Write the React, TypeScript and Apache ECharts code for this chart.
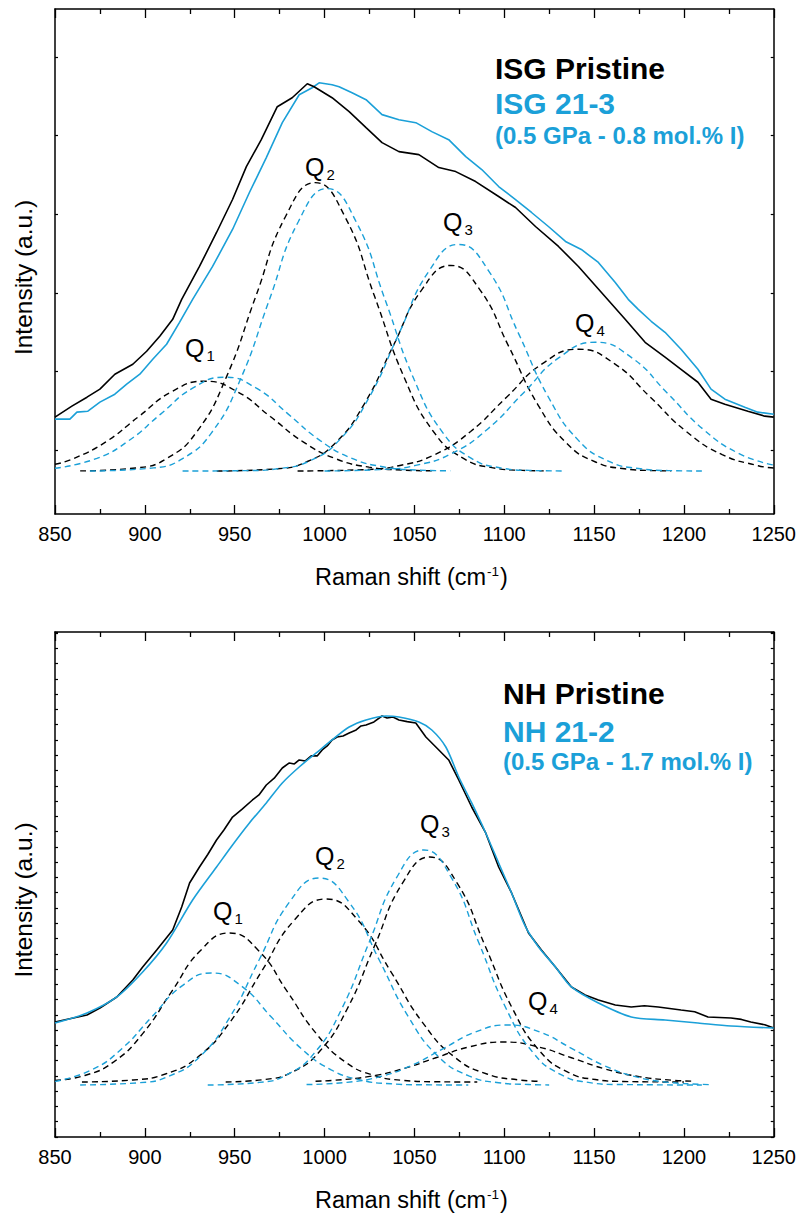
import { useEffect, useRef } from "react";
import * as echarts from "echarts";

type Pt = [number, number];

// ---------- axis values ----------
const X_MIN = 850;
const X_MAX = 1250;
const X_STEP = 50;
const TOP_Y_MIN = 0.19;
const TOP_Y_MAX = 6.61;
const TOP_Y_TICKS = [1, 2, 3, 4, 5, 6];
const BOT_Y_MIN = 0;
const BOT_Y_MAX = 6.614;
const BOT_Y_STEP = 0.2;

// ---------- top panel: ISG ----------
const isgPristine: Pt[] = [
  [850, 1.421], [859.4, 1.561], [867.8, 1.675], [875.0, 1.777], [883.3, 1.967], [893.3, 2.094],
  [901.0, 2.259], [908.3, 2.449], [915.5, 2.665], [920.5, 2.919], [930.4, 3.337], [939.9, 3.769],
  [948.8, 4.188], [956.5, 4.606], [964.8, 4.949], [973.7, 5.368], [982.0, 5.482], [990.4, 5.660],
  [994.2, 5.622], [1004.2, 5.482], [1013.7, 5.305], [1023.1, 5.101], [1032.0, 4.911], [1041.4, 4.797],
  [1052.5, 4.759], [1063.6, 4.594], [1073.0, 4.543], [1084.1, 4.416], [1096.9, 4.226], [1106.3, 4.086],
  [1117.4, 3.845], [1130.2, 3.591], [1141.3, 3.337], [1154.0, 3.008], [1167.3, 2.665], [1178.4, 2.373],
  [1189.5, 2.183], [1198.4, 2.030], [1207.8, 1.865], [1215.1, 1.650], [1222.8, 1.586], [1235.6, 1.497],
  [1245.0, 1.434], [1250, 1.421],
];
const isg213: Pt[] = [
  [850, 1.396], [858.3, 1.396], [862.2, 1.485], [868.3, 1.497], [875.0, 1.612], [883.3, 1.713],
  [889.9, 1.840], [897.2, 1.967], [904.4, 2.157], [912.1, 2.348], [919.3, 2.627], [926.6, 2.919],
  [937.7, 3.337], [948.8, 3.807], [958.2, 4.277], [967.6, 4.721], [976.5, 5.165], [985.9, 5.520],
  [993.1, 5.609], [997.0, 5.672], [1004.2, 5.647], [1008.1, 5.622], [1015.3, 5.546], [1023.1, 5.457],
  [1032.0, 5.267], [1041.4, 5.203], [1050.8, 5.165], [1059.7, 5.051], [1069.1, 4.949], [1078.6, 4.733],
  [1087.5, 4.569], [1096.9, 4.353], [1106.3, 4.188], [1115.2, 4.023], [1124.6, 3.845], [1134.1, 3.655],
  [1142.9, 3.553], [1152.4, 3.388], [1161.8, 3.134], [1169.0, 2.919], [1174.6, 2.792], [1181.8, 2.640],
  [1189.5, 2.500], [1198.4, 2.284], [1207.8, 2.030], [1215.1, 1.777], [1222.8, 1.650], [1233.9, 1.548],
  [1241.1, 1.485], [1250, 1.459],
];
const isgPristineQ1: Pt[] = [
  [850, 0.822], [860, 0.891], [878.3, 1.107], [896.6, 1.429], [914.9, 1.744], [933.2, 1.878],
  [951.5, 1.744], [969.8, 1.429], [988.1, 1.107], [1006.4, 0.891], [1024.7, 0.786], [1043, 0.749], [1060, 0.739],
];
const isg213Q1: Pt[] = [
  [850, 0.771], [873.3, 0.897], [891.1, 1.123], [908.8, 1.46], [926.6, 1.789], [944.3, 1.929],
  [962.1, 1.789], [979.8, 1.46], [997.6, 1.123], [1015.3, 0.897], [1033.1, 0.788], [1050.8, 0.749], [1070, 0.739],
];
const isgPristineQ2: Pt[] = [
  [864, 0.738], [895.8, 0.777], [912.3, 0.897], [928.8, 1.232], [945.3, 1.927], [961.8, 2.96],
  [978.3, 3.972], [994.8, 4.403], [1011.3, 3.972], [1027.8, 2.96], [1044.3, 1.927], [1060.8, 1.232],
  [1077.3, 0.897], [1093.8, 0.777], [1110.3, 0.744], [1122, 0.738],
];
const isg213Q2: Pt[] = [
  [869.4, 0.736], [904.9, 0.776], [921, 0.894], [937.1, 1.222], [953.2, 1.902], [969.3, 2.914],
  [985.4, 3.905], [1001.5, 4.327], [1017.6, 3.905], [1033.7, 2.914], [1049.8, 1.902], [1065.9, 1.222],
  [1082, 0.894], [1098.1, 0.776], [1114.2, 0.744], [1134, 0.737],
];
const isgPristineQ3: Pt[] = [
  [940, 0.736], [973.7, 0.765], [989.8, 0.851], [1005.9, 1.09], [1022, 1.585], [1038.1, 2.321],
  [1054.2, 3.043], [1070.3, 3.35], [1086.4, 3.043], [1102.5, 2.321], [1118.6, 1.585], [1134.7, 1.09],
  [1150.8, 0.851], [1166.9, 0.765], [1183, 0.742], [1193, 0.738],
];
const isg213Q3: Pt[] = [
  [921, 0.736], [958.2, 0.742], [974.8, 0.768], [991.5, 0.862], [1008.1, 1.126], [1024.8, 1.671],
  [1041.4, 2.483], [1058.1, 3.278], [1074.7, 3.617], [1091.4, 3.278], [1108, 2.483], [1124.7, 1.671],
  [1141.3, 1.126], [1158, 0.862], [1174.6, 0.768], [1191.3, 0.742], [1210, 0.737],
];
const isgPristineQ4: Pt[] = [
  [985, 0.737], [1021.3, 0.753], [1041.3, 0.804], [1061.3, 0.945], [1081.3, 1.239], [1101.3, 1.675],
  [1121.3, 2.102], [1141.3, 2.284], [1161.3, 2.102], [1181.3, 1.675], [1201.3, 1.239], [1221.3, 0.945],
  [1241.3, 0.804], [1250, 0.774],
];
const isg213Q4: Pt[] = [
  [1000, 0.737], [1030.7, 0.754], [1050.7, 0.808], [1070.7, 0.958], [1090.7, 1.268], [1110.7, 1.729],
  [1130.7, 2.181], [1150.7, 2.373], [1170.7, 2.181], [1190.7, 1.729], [1210.7, 1.268], [1230.7, 0.958],
  [1250, 0.812],
];

// ---------- bottom panel: NH ----------
const nhPristine: Pt[] = [
  [850, 1.506], [867.8, 1.598], [875.0, 1.690], [884.4, 1.834], [893.3, 2.056], [898.8, 2.227],
  [906.6, 2.449], [915.5, 2.711], [920.5, 3.013], [924.9, 3.327], [930.4, 3.536], [935.0, 3.700],
  [939.9, 3.890], [944.0, 4.020], [948.8, 4.191], [954.0, 4.290], [959.9, 4.414], [963.5, 4.480],
  [967.6, 4.610], [972.0, 4.700], [976.5, 4.833], [980.4, 4.899], [983.2, 4.886], [985.9, 4.938],
  [989.3, 4.925], [992.6, 4.991], [995.9, 4.991], [998.7, 5.069], [1001.5, 5.121], [1004.2, 5.200],
  [1007.0, 5.239], [1010.3, 5.252], [1013.7, 5.292], [1017.6, 5.331], [1020.3, 5.383], [1023.1, 5.396],
  [1027.5, 5.436], [1032.0, 5.514], [1034.8, 5.488], [1038.1, 5.501], [1041.4, 5.462], [1046.0, 5.440],
  [1050.8, 5.423], [1056.4, 5.239], [1063.6, 5.069], [1069.1, 4.938], [1074.7, 4.676], [1081.9, 4.322],
  [1089.7, 3.982], [1096.9, 3.536], [1104.1, 3.196], [1113.5, 2.672], [1120.7, 2.449], [1128.5, 2.227],
  [1137.4, 1.965], [1145.0, 1.860], [1152.4, 1.794], [1161.8, 1.729], [1170.7, 1.703], [1178.0, 1.720],
  [1185.7, 1.703], [1198.4, 1.663], [1206.0, 1.640], [1213.4, 1.572], [1226.2, 1.559], [1232.0, 1.540],
  [1237.2, 1.506], [1245.0, 1.470], [1250, 1.428],
];
const nh212: Pt[] = [
  [850, 1.493], [867.8, 1.624], [884.4, 1.834], [898.8, 2.161], [912.1, 2.541], [926.6, 3.104],
  [939.9, 3.536], [948.8, 3.825], [958.2, 4.113], [967.6, 4.375], [976.5, 4.637], [985.9, 4.846],
  [995.4, 5.030], [1004.2, 5.200], [1013.7, 5.370], [1023.1, 5.462], [1034.2, 5.514], [1041.4, 5.501],
  [1052.5, 5.436], [1059.7, 5.331], [1067.5, 5.108], [1074.7, 4.715], [1081.9, 4.375], [1089.7, 3.982],
  [1096.9, 3.589], [1104.1, 3.196], [1111.9, 2.751], [1119.1, 2.489], [1128.5, 2.227], [1137.4, 1.965],
  [1152.4, 1.755], [1170.7, 1.572], [1189.5, 1.532], [1207.8, 1.493], [1226.2, 1.454], [1250, 1.428],
];
const nhPristineQ1: Pt[] = [
  [850, 0.741], [866.6, 0.806], [882.7, 0.984], [898.8, 1.354], [914.9, 1.904], [931, 2.443],
  [947.1, 2.672], [963.2, 2.443], [979.3, 1.904], [995.4, 1.354], [1011.5, 0.984], [1027.6, 0.806],
  [1043.7, 0.742], [1059.8, 0.724], [1085, 0.72],
];
const nh212Q1: Pt[] = [
  [850, 0.729], [870.5, 0.88], [887.2, 1.157], [903.8, 1.571], [920.5, 1.976], [937.1, 2.148],
  [953.8, 1.976], [970.4, 1.571], [987.1, 1.157], [1003.7, 0.88], [1020.4, 0.745], [1037, 0.697],
  [1053.7, 0.684], [1080, 0.681],
];
const nhPristineQ2: Pt[] = [
  [865, 0.72], [893.5, 0.747], [911.4, 0.825], [929.3, 1.044], [947.2, 1.498], [965.1, 2.174],
  [983, 2.835], [1000.9, 3.117], [1018.8, 2.835], [1036.7, 2.174], [1054.6, 1.498], [1072.5, 1.044],
  [1090.4, 0.825], [1108.3, 0.747], [1120, 0.729],
];
const nh212Q2: Pt[] = [
  [864, 0.682], [897.1, 0.711], [913.8, 0.8], [930.4, 1.048], [947.1, 1.561], [963.7, 2.325],
  [980.4, 3.074], [997, 3.392], [1013.7, 3.074], [1030.3, 2.325], [1047, 1.561], [1063.6, 1.048],
  [1080.3, 0.8], [1096.9, 0.711], [1113.6, 0.687], [1125, 0.682],
];
const nhPristineQ3: Pt[] = [
  [945, 0.721], [966.5, 0.753], [981.9, 0.849], [997.2, 1.119], [1012.6, 1.677], [1027.9, 2.507],
  [1043.3, 3.321], [1058.6, 3.667], [1073.9, 3.321], [1089.3, 2.507], [1104.7, 1.677], [1120, 1.119],
  [1135.4, 0.849], [1150.7, 0.753], [1166.1, 0.727], [1200, 0.72],
];
const nh212Q3: Pt[] = [
  [935, 0.681], [963.8, 0.715], [979.1, 0.816], [994.3, 1.098], [1009.6, 1.68], [1024.8, 2.548],
  [1040.1, 3.397], [1055.3, 3.759], [1070.6, 3.397], [1085.8, 2.548], [1101.1, 1.68], [1116.3, 1.098],
  [1131.6, 0.816], [1146.8, 0.715], [1162.1, 0.688], [1210, 0.681],
];
const nhPristineQ4: Pt[] = [
  [995, 0.731], [1005.5, 0.743], [1024.3, 0.791], [1043.2, 0.89], [1062, 1.038], [1080.9, 1.182],
  [1099.7, 1.244], [1118.6, 1.182], [1137.4, 1.038], [1156.3, 0.89], [1175.1, 0.791], [1194, 0.743],
  [1205, 0.731],
];
const nh212Q4: Pt[] = [
  [990, 0.687], [1012.4, 0.716], [1030.3, 0.787], [1048.2, 0.936], [1066.1, 1.158], [1084, 1.375],
  [1101.9, 1.467], [1119.8, 1.375], [1137.7, 1.158], [1155.6, 0.936], [1173.5, 0.787], [1191.4, 0.716],
  [1209.3, 0.69], [1215, 0.686],
];

// ---------- texts ----------
const TOP_LEGEND = ["ISG Pristine", "ISG 21-3", "(0.5 GPa - 0.8 mol.% I)"];
const BOT_LEGEND = ["NH Pristine", "NH 21-2", "(0.5 GPa - 1.7 mol.% I)"];
const Q_SUBS = ["1", "2", "3", "4"];
const X_TITLE = ["Raman shift (cm", "-1", ")"];
const Y_TITLE = "Intensity (a.u.)";

const FONT = '"Liberation Sans", Arial, Helvetica, sans-serif';
const BLACK = "#000000";
const BLUE = "#1BA0D8";

function txt(x: number, y: number, text: string, size: number, color: string, bold = false, extra: any = {}) {
  return {
    type: "text",
    x,
    y,
    silent: true,
    ...extra,
    style: {
      text,
      fill: color,
      font: `${bold ? "bold " : ""}${size}px ${FONT}`,
      align: extra.align || "left",
      verticalAlign: "middle",
      textAlign: extra.align || "left",
      textVerticalAlign: "middle",
    },
  };
}

function qLabel(x: number, baseline: number, sub: string) {
  return [
    txt(x, baseline - 8.6, "Q", 25, BLACK),
    txt(x + 21.5, baseline + 4 - 5.2, sub, 15, BLACK),
  ];
}

function xTitle(baseline: number) {
  return [
    txt(315, baseline - 8.1, X_TITLE[0], 23.5, BLACK),
    txt(487, baseline - 13.3, X_TITLE[1], 13.5, BLACK),
    txt(500, baseline - 8.1, X_TITLE[2], 23.5, BLACK),
  ];
}

function line(data: Pt[], xi: number, yi: number, color: string, dashed: boolean, smooth: any = false) {
  return {
    type: "line",
    data,
    xAxisIndex: xi,
    yAxisIndex: yi,
    symbol: "none",
    showSymbol: false,
    smooth,
    silent: true,
    z: dashed ? 2 : 3,
    lineStyle: { color, width: dashed ? 1.4 : 1.6, type: dashed ? [6, 4] : "solid" },
  };
}

function xAxes(gridIndex: number) {
  const base: any = {
    type: "value",
    gridIndex,
    min: X_MIN,
    max: X_MAX,
    interval: X_STEP,
    splitLine: { show: false },
    axisLine: { show: true, onZero: false, lineStyle: { color: BLACK, width: 1.5 } },
    axisTick: { show: true, inside: true, length: 9, lineStyle: { color: BLACK, width: 1.3 } },
    minorTick: { show: true, splitNumber: 2, length: 5, lineStyle: { color: BLACK, width: 1.3 } },
    minorSplitLine: { show: false },
  };
  return [
    {
      ...base,
      position: "bottom",
      axisLabel: {
        show: true,
        margin: 10,
        color: BLACK,
        fontSize: 20,
        fontFamily: FONT,
        formatter: (v: number) => String(v),
      },
    },
    { ...base, position: "top", axisLabel: { show: false } },
  ];
}

function yAxes(gridIndex: number, top: boolean) {
  const base: any = {
    type: "value",
    gridIndex,
    min: top ? TOP_Y_MIN : BOT_Y_MIN,
    max: top ? TOP_Y_MAX : BOT_Y_MAX,
    splitLine: { show: false },
    axisLabel: { show: false },
    axisLine: { show: true, onZero: false, lineStyle: { color: BLACK, width: 1.5 } },
    axisTick: top
      ? { show: true, inside: true, length: 3, customValues: TOP_Y_TICKS, lineStyle: { color: BLACK, width: 1.2 } }
      : { show: true, inside: true, length: 3, lineStyle: { color: BLACK, width: 1.2 } },
  };
  if (!top) base.interval = BOT_Y_STEP;
  return [
    { ...base, position: "left" },
    { ...base, position: "right" },
  ];
}

export default function App() {
  const ref = useRef<HTMLDivElement>(null);
  useEffect(() => {
    if (!ref.current) return;
    const chart = echarts.init(ref.current, null, { renderer: "svg" });
    const graphic: any[] = [
      txt(495, 68.6, TOP_LEGEND[0], 30, BLACK, true),
      txt(495, 103.6, TOP_LEGEND[1], 30, BLUE, true),
      txt(495, 135, TOP_LEGEND[2], 24, BLUE, true),
      txt(503, 693.1, BOT_LEGEND[0], 30, BLACK, true),
      txt(503, 731.1, BOT_LEGEND[1], 30, BLUE, true),
      txt(503, 761.2, BOT_LEGEND[2], 24, BLUE, true),
      ...qLabel(185, 357, Q_SUBS[0]),
      ...qLabel(305, 176, Q_SUBS[1]),
      ...qLabel(443, 231, Q_SUBS[2]),
      ...qLabel(575, 332, Q_SUBS[3]),
      ...qLabel(213, 920, Q_SUBS[0]),
      ...qLabel(315, 865, Q_SUBS[1]),
      ...qLabel(420, 833, Q_SUBS[2]),
      ...qLabel(528, 1010, Q_SUBS[3]),
      ...xTitle(585),
      ...xTitle(1208),
      txt(23, 277.5, Y_TITLE, 24.5, BLACK, false, { rotation: Math.PI / 2, align: "center" }),
      txt(23, 900, Y_TITLE, 24.5, BLACK, false, { rotation: Math.PI / 2, align: "center" }),
    ];
    chart.setOption({
      animation: false,
      backgroundColor: "#ffffff",
      grid: [
        { left: 55, top: 9, width: 721, height: 505, containLabel: false },
        { left: 55, top: 632, width: 721, height: 505, containLabel: false },
      ],
      xAxis: [...xAxes(0), ...xAxes(1)],
      yAxis: [...yAxes(0, true), ...yAxes(1, false)],
      series: [
        line(isgPristineQ1, 0, 0, BLACK, true, true),
        line(isgPristineQ2, 0, 0, BLACK, true, true),
        line(isgPristineQ3, 0, 0, BLACK, true, true),
        line(isgPristineQ4, 0, 0, BLACK, true, true),
        line(isg213Q1, 0, 0, BLUE, true, true),
        line(isg213Q2, 0, 0, BLUE, true, true),
        line(isg213Q3, 0, 0, BLUE, true, true),
        line(isg213Q4, 0, 0, BLUE, true, true),
        line(isg213, 0, 0, BLUE, false),
        line(isgPristine, 0, 0, BLACK, false),
        line(nhPristineQ1, 2, 2, BLACK, true, true),
        line(nhPristineQ2, 2, 2, BLACK, true, true),
        line(nhPristineQ3, 2, 2, BLACK, true, true),
        line(nhPristineQ4, 2, 2, BLACK, true, true),
        line(nh212Q1, 2, 2, BLUE, true, true),
        line(nh212Q2, 2, 2, BLUE, true, true),
        line(nh212Q3, 2, 2, BLUE, true, true),
        line(nh212Q4, 2, 2, BLUE, true, true),
        line(nhPristine, 2, 2, BLACK, false),
        line(nh212, 2, 2, BLUE, false, 0.3),
      ],
      graphic,
    });
    return () => chart.dispose();
  }, []);
  return (
    <div
      ref={ref}
      style={{ position: "absolute", left: 0, top: 0, width: 799, height: 1214, background: "#fff" }}
    />
  );
}
